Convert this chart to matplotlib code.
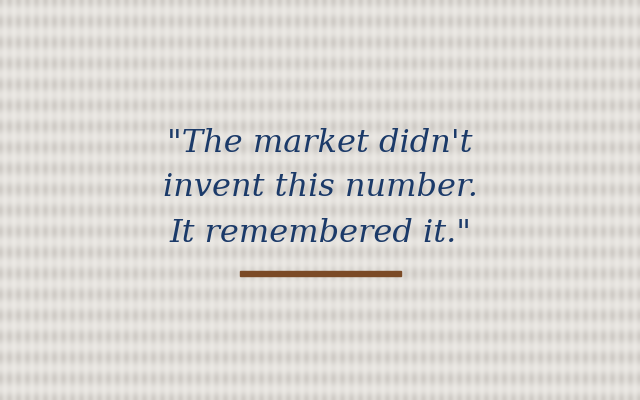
import numpy as np
import matplotlib.pyplot as plt
from matplotlib.patches import Rectangle

quote_lines = ['"The market didn\'t', "invent this number.", 'It remembered it."']
line_y = [143, 188, 233]  # pixel rows of line centres
rule_span = (240, 401)
rule_y = 273

W, H = 640, 400
fig = plt.figure(figsize=(6.4, 4.0), dpi=100)
ax = fig.add_axes([0, 0, 1, 1])
ax.set_xlim(0, W)
ax.set_ylim(H, 0)
ax.axis("off")

# soft blurred woven background
yy, xx = np.mgrid[0:H, 0:W]
rows = 0.5 + 0.5 * np.cos(2 * np.pi * yy / 21.0)
cols = 0.5 + 0.5 * np.cos(2 * np.pi * xx / 9.0)
shade = 0.45 * rows + 0.55 * cols * (0.4 + 0.6 * rows)
light = np.array([0.922, 0.912, 0.895])
dark = np.array([0.815, 0.80, 0.78])
img = light - shade[..., None] * (light - dark)
ax.imshow(img, extent=(0, W, H, 0), interpolation="bilinear", zorder=0)

for txt, y in zip(quote_lines, line_y):
    ax.text(W / 2, y, txt, ha="center", va="center", fontsize=23,
            family="DejaVu Serif", style="italic", color="#1b3a69", zorder=2)

ax.add_patch(Rectangle((rule_span[0], rule_y - 2.5), rule_span[1] - rule_span[0], 5,
                       color="#7b4a26", zorder=2))

fig.savefig("out.png", dpi=100)
